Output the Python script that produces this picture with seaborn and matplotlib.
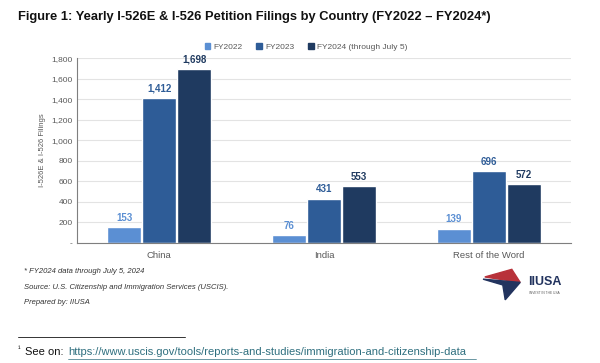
import pandas as pd
import matplotlib.pyplot as plt
import seaborn as sns
from matplotlib.lines import Line2D
from matplotlib.patches import Polygon

sns.set_theme(style="whitegrid")
plt.rcParams['font.family'] = ['Liberation Sans', 'DejaVu Sans']

countries = ["China", "India", "Rest of the Word"]
years = ["FY2022", "FY2023", "FY2024 (through July 5)"]
fy2022 = [153, 76, 139]
fy2023 = [1412, 431, 696]
fy2024 = [1698, 553, 572]
colors = ["#5b8fd3", "#2e5c97", "#1f3a60"]

rows = []
for i, c in enumerate(countries):
    for y, vals in zip(years, [fy2022, fy2023, fy2024]):
        rows.append({"country": c, "year": y, "value": vals[i]})
df = pd.DataFrame(rows)

fig = plt.figure(figsize=(6, 3.63), dpi=100)
ax = fig.add_axes([0.128, 0.331, 0.824, 0.509])
sns.barplot(data=df, x="country", y="value", hue="year", palette=colors,
            saturation=1, width=0.64, gap=0.03, ax=ax, legend=False)

ax.set_ylim(0, 1800)
ax.set_yticks(range(0, 1801, 200))
ax.set_yticklabels(["-"] + [f"{v:,}" for v in range(200, 1801, 200)])
ax.tick_params(axis="both", labelsize=6, colors="#595959", length=0, pad=3)
ax.tick_params(axis="x", labelsize=6.8, pad=6)
ax.grid(axis="y", color="#e3e3e3", linewidth=0.8)
ax.grid(axis="x", visible=False)
for s in ["top", "right"]:
    ax.spines[s].set_visible(False)
ax.spines["left"].set_color("#7f7f7f")
ax.spines["bottom"].set_color("#7f7f7f")
ax.spines["left"].set_linewidth(0.8)
ax.spines["bottom"].set_linewidth(0.8)
ax.set_xlabel("")
ax.set_ylabel("I-526E & I-526 Filings", fontsize=5.5, color="#595959", labelpad=4)

for cont, col in zip(ax.containers, colors):
    ax.bar_label(cont, labels=[f"{int(v):,}" for v in cont.datavalues],
                 fontsize=7, fontweight="bold", color=col, padding=3)

handles = [plt.Rectangle((0, 0), 1, 1, color=c) for c in colors]
fig.legend(handles, years, loc="center", bbox_to_anchor=(0.51, 0.87), ncol=3,
           frameon=False, fontsize=6, handlelength=0.7, handleheight=0.7,
           columnspacing=1.6, handletextpad=0.4, labelcolor="#595959")

fig.text(0.03, 0.953, "Figure 1: Yearly I-526E & I-526 Petition Filings by Country (FY2022 \u2013 FY2024*)",
         fontsize=9.3, fontweight="bold", color="#111111", va="center")

fig.text(0.04, 0.253, "* FY2024 data through July 5, 2024", fontsize=5.5, style="italic",
         color="#333333", va="center")
fig.text(0.04, 0.209, "Source: U.S. Citizenship and Immigration Services (USCIS).", fontsize=5.5,
         style="italic", color="#333333", va="center")
fig.text(0.04, 0.168, "Prepared by: IIUSA", fontsize=5.5, style="italic", color="#333333", va="center")

# logo
red = Polygon([[0.808, 0.237], [0.853, 0.258], [0.867, 0.222]], closed=True,
              transform=fig.transFigure, color="#b8323a")
blue = Polygon([[0.805, 0.231], [0.867, 0.222], [0.842, 0.174], [0.838, 0.215]],
               closed=True, transform=fig.transFigure, color="#22335e")
fig.patches.extend([red, blue])
fig.text(0.88, 0.222, "IIUSA", fontsize=9, fontweight="bold", color="#22335e", va="center")
fig.text(0.881, 0.192, "INVEST IN THE USA", fontsize=2.3, color="#555555", va="center")

fig.add_artist(Line2D([0.03, 0.308], [0.072, 0.072], color="#333333", linewidth=0.7))
fig.text(0.03, 0.036, "\u00b9", fontsize=5.5, color="#111111", va="center")
fig.text(0.041, 0.03, "See on:", fontsize=8, color="#111111", va="center")
fig.text(0.114, 0.03, "https://www.uscis.gov/tools/reports-and-studies/immigration-and-citizenship-data",
         fontsize=8, color="#2f6f7f", va="center")
fig.add_artist(Line2D([0.114, 0.793], [0.011, 0.011], color="#2f6f7f", linewidth=0.5))

fig.savefig("out.png", dpi=100)
